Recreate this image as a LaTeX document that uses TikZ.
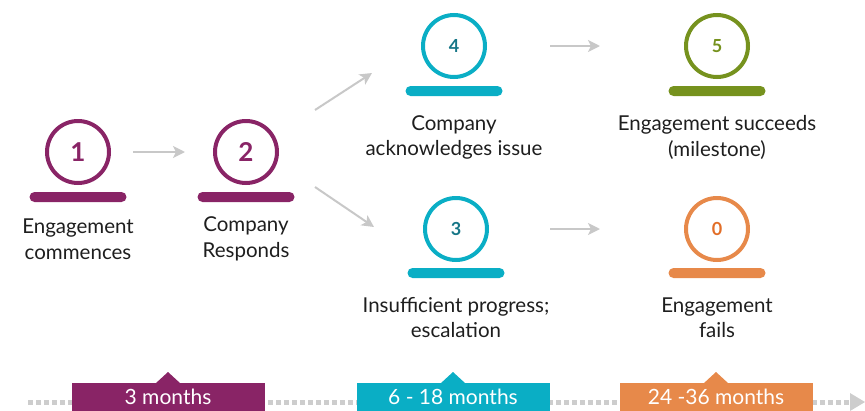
\documentclass[tikz,border=0pt]{standalone}
\usepackage{fontspec}
\setmainfont{Lato}
\usetikzlibrary{arrows.meta}

\definecolor{plum}{RGB}{137,36,102}
\definecolor{aqua}{RGB}{10,174,197}
\definecolor{aquatext}{RGB}{22,118,135}
\definecolor{olive}{RGB}{118,146,30}
\definecolor{amber}{RGB}{231,137,74}
\definecolor{ambertext}{RGB}{226,110,40}
\definecolor{ink}{RGB}{30,30,30}
\definecolor{arrowgray}{RGB}{200,200,200}
\definecolor{trackgray}{RGB}{205,205,205}

\tikzset{
  ring/.style={circle, draw=#1, line width=4pt, minimum size=62pt, inner sep=0pt},
  bignum/.style={font=\fontsize{26}{26}\selectfont\bfseries},
  smallnum/.style={font=\fontsize{18}{18}\selectfont\bfseries},
  bar/.style={fill=#1, rounded corners=5pt, minimum width=97pt, minimum height=10pt, inner sep=0pt},
  caption/.style={align=center, text=ink, font=\fontsize{20.5}{25.5}\selectfont},
  flow/.style={draw=arrowgray, line width=2pt, -{Stealth[length=12pt,width=12pt,inset=3pt]}},
  period/.style={fill=#1, minimum width=193pt, minimum height=34pt, inner sep=0pt, anchor=north,
    text=white, font=\fontsize{21}{21}\selectfont, text height=15pt, text depth=7pt},
}

\begin{document}
\begin{tikzpicture}[x=1pt, y=-1pt]
  \useasboundingbox (0,0) rectangle (865,410);

  % step 1
  \node[ring=plum, text=plum, bignum] (c1) at (78,152) {1};
  \node[bar=plum] (b1) at (78,197) {};
  \node[caption] (t1) at (78,239) {Engagement\\commences};

  % step 2
  \node[ring=plum, text=plum, bignum] (c2) at (246,152) {2};
  \node[bar=plum] (b2) at (246,197) {};
  \node[caption] (t2) at (246,239) {Company\\Responds};

  % step 4
  \node[ring=aqua, text=aquatext, smallnum] (c4) at (454,46) {4};
  \node[bar=aqua] (b4) at (454,91) {};
  \node[caption] (t4) at (454,137.5) {Company\\acknowledges issue};

  % step 5
  \node[ring=olive, text=olive, smallnum] (c5) at (717,46) {5};
  \node[bar=olive] (b5) at (717,91) {};
  \node[caption] (t5) at (717,137.5) {Engagement succeeds\\(milestone)};

  % step 3
  \node[ring=aqua, text=aquatext, smallnum] (c3) at (456,229) {3};
  \node[bar=aqua] (b3) at (456,273) {};
  \node[caption] (t3) at (456,317.5) {Insufficient progress;\\escalation};

  % step 0
  \node[ring=amber, text=ambertext, smallnum] (c0) at (717,229) {0};
  \node[bar=amber] (b0) at (717,273) {};
  \node[caption] (t0) at (717,317.5) {Engagement\\fails};

  % connectors
  \draw[flow, shorten <=22pt, shorten >=28pt] (c1) -- (c2);
  \coordinate (upA) at (315,110);
  \coordinate (upB) at (372,73);
  \coordinate (dnA) at (315,187);
  \coordinate (dnB) at (374,227);
  \draw[flow] (upA) -- (upB);
  \draw[flow] (dnA) -- (dnB);
  \draw[flow, shorten <=63pt, shorten >=84pt] (c4) -- (c5);
  \draw[flow, shorten <=61pt, shorten >=84pt] (c3) -- (c0);

  % timeline track
  \coordinate (trackA) at (28,402);
  \coordinate (trackB) at (850,402);
  \draw[trackgray, line width=5pt, dash pattern=on 5pt off 3pt] (trackA) -- (trackB);
  \fill[trackgray] (850,393) -- (865,402) -- (850,411) -- cycle;

  % periods
  \foreach \cx/\col/\lab [count=\i] in {168/plum/3 months, 453/aqua/6 - 18 months, 716/amber/24 -36 months}{
    \fill[\col] (\cx-12.5,383.5) -- (\cx,372) -- (\cx+12.5,383.5) -- cycle;
    \node[period=\col] (p\i) at (\cx,383) {\lab};
  }
\end{tikzpicture}
\end{document}
